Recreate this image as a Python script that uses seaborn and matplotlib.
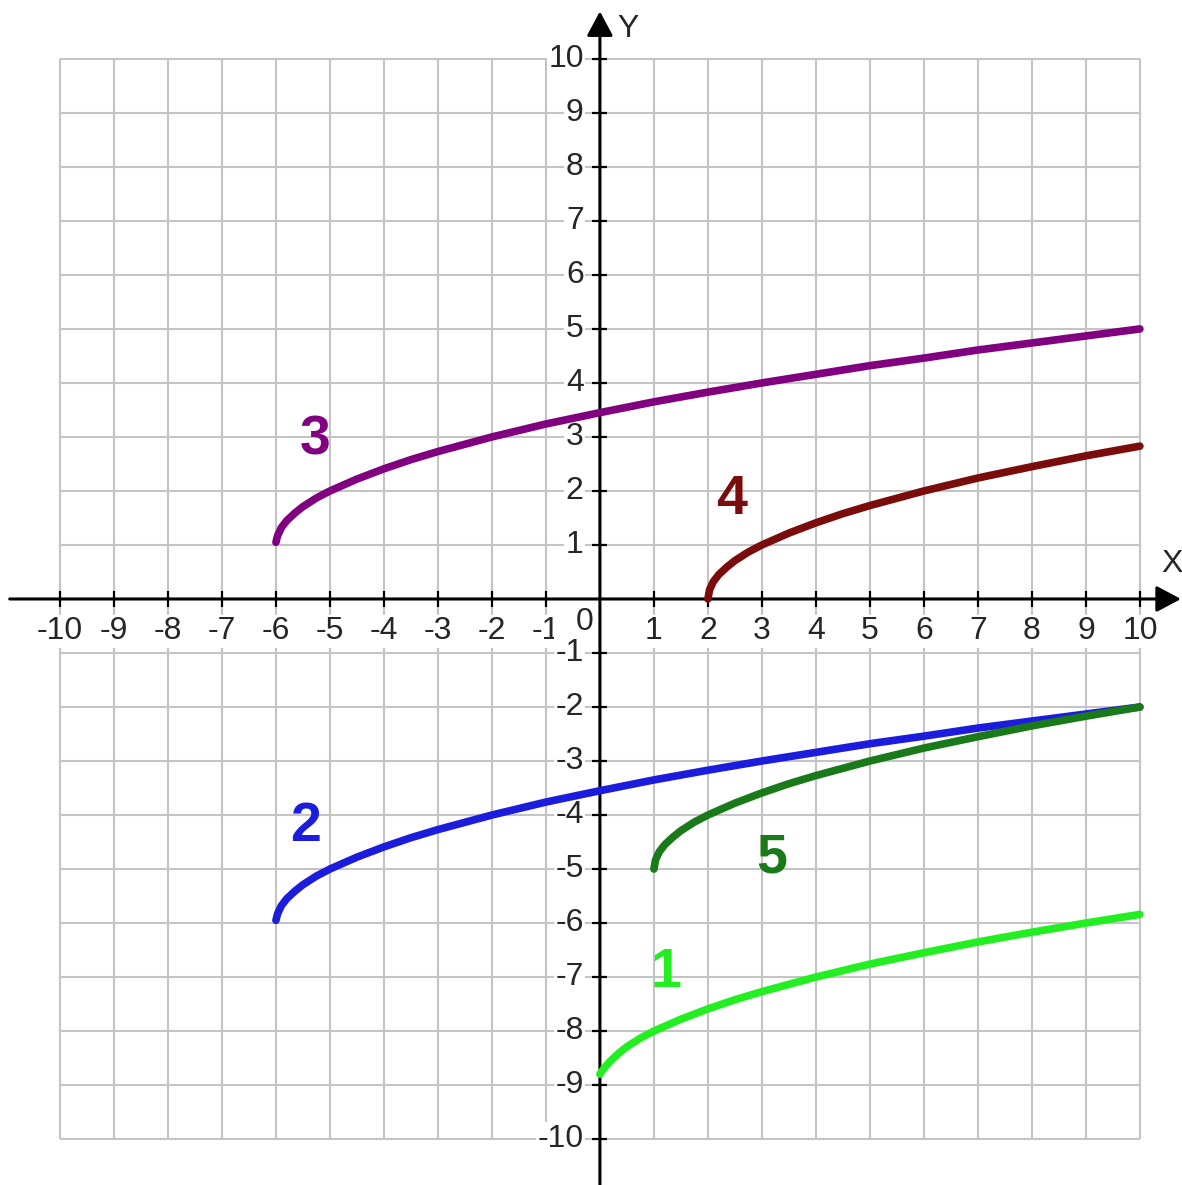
import pandas as pd
import matplotlib
matplotlib.use('Agg')
import matplotlib.pyplot as plt
import seaborn as sns

# Values
ticks = list(range(-10, 11))
curve_names = ['1', '2', '3', '4', '5']

x1 = [0, 0.03, 0.1, 0.2, 0.35, 0.5, 0.75, 1, 1.5, 2, 2.5, 3, 4, 5, 6, 7, 8, 9, 10]
y1 = [-8.8, -8.75, -8.66, -8.55, -8.41, -8.29, -8.13, -8.0, -7.78, -7.59, -7.42, -7.27,
      -7.0, -6.76, -6.55, -6.35, -6.17, -6.0, -5.84]

x2 = [-6, -5.97, -5.9, -5.8, -5.65, -5.5, -5.25, -5, -4.5, -4, -3.5, -3, -2, -1, 0, 1, 2,
      3, 4, 5, 6, 7, 8, 9, 10]
y2 = [-5.95, -5.83, -5.68, -5.55, -5.41, -5.29, -5.13, -5.0, -4.78, -4.59, -4.42, -4.27,
      -4.0, -3.76, -3.55, -3.35, -3.17, -3.0, -2.84, -2.68, -2.54, -2.39, -2.26, -2.13, -2.0]

x3 = [-6, -5.97, -5.9, -5.8, -5.65, -5.5, -5.25, -5, -4.5, -4, -3.5, -3, -2, -1, 0, 1, 2,
      3, 4, 5, 6, 7, 8, 9, 10]
y3 = [1.05, 1.17, 1.32, 1.45, 1.59, 1.71, 1.87, 2.0, 2.22, 2.41, 2.58, 2.73,
      3.0, 3.24, 3.45, 3.65, 3.83, 4.0, 4.16, 4.32, 4.46, 4.61, 4.74, 4.87, 5.0]

x4 = [2, 2.03, 2.1, 2.2, 2.35, 2.5, 2.75, 3, 3.5, 4, 4.5, 5, 6, 7, 8, 9, 10]
y4 = [0, 0.17, 0.32, 0.45, 0.59, 0.71, 0.87, 1.0, 1.22, 1.41, 1.58, 1.73, 2.0, 2.24, 2.45,
      2.65, 2.83]

x5 = [1, 1.03, 1.1, 1.2, 1.35, 1.5, 1.75, 2, 2.5, 3, 3.5, 4, 5, 6, 7, 8, 9, 10]
y5 = [-5.0, -4.83, -4.68, -4.55, -4.41, -4.29, -4.13, -4.0, -3.78, -3.59, -3.42, -3.27,
      -3.0, -2.76, -2.55, -2.35, -2.17, -2.0]

colors = {'1': '#22ee22', '2': '#1c1cdc', '3': '#800080', '4': '#7a0c0c', '5': '#1a7a1a'}

# long table for seaborn
frames = []
for name, xs, ys in zip(curve_names, [x1, x2, x3, x4, x5], [y1, y2, y3, y4, y5]):
    frames.append(pd.DataFrame({'x': xs, 'y': ys, 'curve': name}))
df = pd.concat(frames, ignore_index=True)

sns.set_style('white')
tick_font = ['Liberation Sans Narrow', 'Liberation Sans', 'DejaVu Sans']

fig = plt.figure(figsize=(11.82, 11.85), dpi=100)
ax = fig.add_axes([0, 0, 1, 1])

# grid
ax.vlines(ticks, -10, 10, color='#c4c4c4', lw=1.5, zorder=1)
ax.hlines(ticks, -10, 10, color='#c4c4c4', lw=1.5, zorder=1)

# axes with arrows
arrow = dict(arrowstyle='-|>,head_length=1.5,head_width=0.8', color='black', lw=2.2,
             shrinkA=0, shrinkB=0)
ax.annotate('', xy=(10.76, 0), xytext=(-10.93, 0), arrowprops=arrow, zorder=3)
ax.annotate('', xy=(0, 10.88), xytext=(0, -10.85), arrowprops=arrow, zorder=3)
ax.vlines([t for t in ticks if t != 0], -0.14, 0.14, color='black', lw=1.6, zorder=3)
ax.hlines([t for t in ticks if t != 0], -0.14, 0.14, color='black', lw=1.6, zorder=3)

box = dict(boxstyle='square,pad=0.05', fc='white', ec='none')
for t in ticks:
    if t == 0:
        continue
    ax.text(t, -0.6, str(t), ha='center', va='center', fontsize=23, family=tick_font,
            bbox=box, zorder=2)
    ax.text(-0.3, t, str(t), ha='right', va='center', fontsize=23, family=tick_font,
            bbox=box, zorder=2)
ax.text(-0.28, -0.42, '0', ha='center', va='center', fontsize=23, family=tick_font, zorder=2)
ax.text(10.6, 0.65, 'X', ha='center', va='center', fontsize=23, family=tick_font, zorder=2)
ax.text(0.52, 10.55, 'Y', ha='center', va='center', fontsize=23, family=tick_font, zorder=2)

# curves
sns.lineplot(data=df, x='x', y='y', hue='curve', palette=colors, estimator=None,
             lw=5.5, legend=False, ax=ax, zorder=4, solid_capstyle='round')
ax.set_xlim(-11.11, 10.78)
ax.set_ylim(-10.85, 11.09)
ax.axis('off')

label_pos = {'1': (1.22, -6.92), '2': (-5.46, -4.22), '3': (-5.28, 2.94),
             '4': (2.44, 1.83), '5': (3.19, -4.8)}
for name in curve_names:
    lx, ly = label_pos[name]
    ax.text(lx, ly, name, color=colors[name], fontsize=40, fontweight='bold',
            family=['Liberation Sans', 'DejaVu Sans'], ha='center', va='center', zorder=5)

fig.savefig('out.png', dpi=100)
